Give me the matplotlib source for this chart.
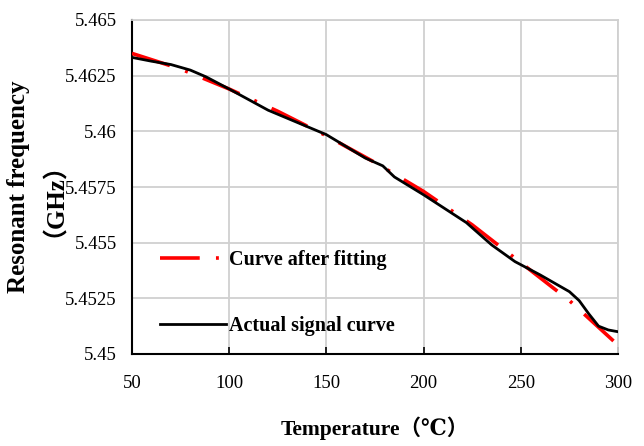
import matplotlib
matplotlib.use("Agg")
import matplotlib.pyplot as plt
from matplotlib.lines import Line2D

# Data
temp_actual = [50, 60, 70, 80, 88, 100, 120, 150, 170, 179, 185, 200, 222, 235, 247, 260, 275, 280, 285, 290, 295, 300]
freq_actual = [5.46332, 5.46315, 5.46300, 5.46275, 5.46245, 5.46190, 5.46095, 5.45985, 5.45880, 5.45845,
               5.45795, 5.45715, 5.45590, 5.45490, 5.45415, 5.45355, 5.45280, 5.45240, 5.45180, 5.45125,
               5.45108, 5.45100]

temp_fit = [50, 75, 100, 125, 150, 175, 200, 225, 250, 275, 300]
freq_fit = [5.4635, 5.4628, 5.4619, 5.4609, 5.4598, 5.4586, 5.4573, 5.4558, 5.4541, 5.4524, 5.4504]

x_ticks = [50, 100, 150, 200, 250, 300]
y_ticks = [5.45, 5.4525, 5.455, 5.4575, 5.46, 5.4625, 5.465]
y_tick_labels = ["5.45", "5.4525", "5.455", "5.4575", "5.46", "5.4625", "5.465"]

label_fit = "Curve after fitting"
label_actual = "Actual signal curve"
xlabel = "Temperature（℃）"
ylabel = "Resonant frequency\n（GHz）"

serif = ["Liberation Serif", "DejaVu Serif", "Noto Sans CJK SC"]

fig = plt.figure(figsize=(6.44, 4.46), dpi=100)
ax = fig.add_axes([132/644, 1-354/446, (618-132)/644, (354-20)/446])

ax.plot(temp_fit, freq_fit, color="#ff0000", lw=2.6, dashes=(11, 4.5, 0.8, 4.5), zorder=3)
ax.plot(temp_actual, freq_actual, color="black", lw=2.0, zorder=4)

ax.set_xlim(50, 300)
ax.set_ylim(5.45, 5.465)
ax.set_xticks(x_ticks)
ax.set_yticks(y_ticks)
ax.set_yticklabels(y_tick_labels)
ax.grid(True, color="#d0d0d0", lw=1.3)
ax.set_axisbelow(True)

for s in ["top", "right"]:
    ax.spines[s].set_color("#d0d0d0")
    ax.spines[s].set_linewidth(1.3)
for s in ["left", "bottom"]:
    ax.spines[s].set_color("black")
    ax.spines[s].set_linewidth(1.5)

ax.tick_params(axis="x", direction="in", length=5, width=1.2, pad=15, labelsize=13.5)
ax.tick_params(axis="y", length=0, pad=11, labelsize=13.5)
for lab in ax.get_xticklabels() + ax.get_yticklabels():
    lab.set_family(serif)

ax.set_xlabel(xlabel, family=serif, fontweight="bold", fontsize=15.5, labelpad=18)
ax.set_ylabel(ylabel, family=serif, fontweight="bold", fontsize=18, labelpad=8, linespacing=1.0)

handles = [Line2D([], [], color="#ff0000", lw=2.6, dashes=(11, 4.5, 0.8, 4.5)),
           Line2D([], [], color="black", lw=2.0)]
leg = ax.legend(handles, [label_fit, label_actual], loc="lower left", bbox_to_anchor=(0.02, 0.0),
                frameon=False, labelspacing=2.3, handlelength=3.3, handletextpad=0.15,
                prop={"family": serif, "weight": "bold", "size": 14.5})

fig.savefig("out.png", dpi=100, facecolor="white")
